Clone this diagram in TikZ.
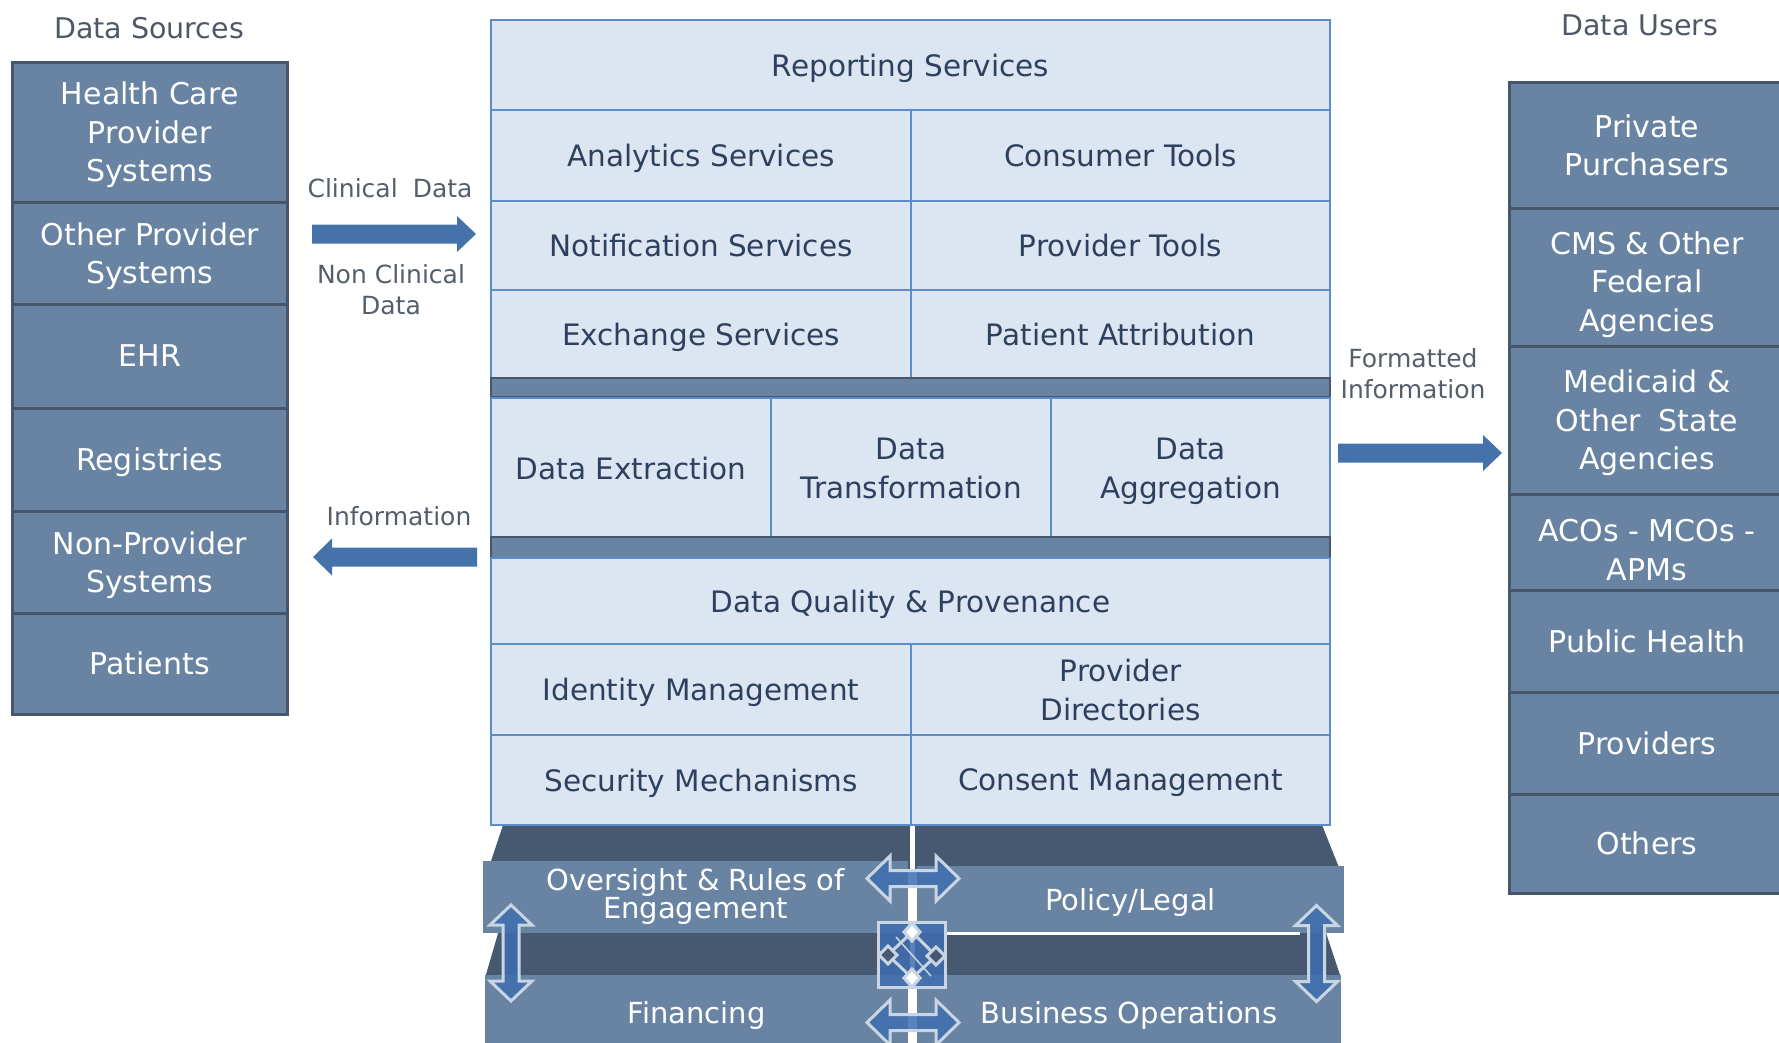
\documentclass[tikz,border=0pt]{standalone}
\usepackage{fontspec}
\setmainfont{DejaVu Sans}
\definecolor{slate}{HTML}{6884A2}
\definecolor{slateline}{HTML}{46566C}
\definecolor{darkslate}{HTML}{475971}
\definecolor{paleblue}{HTML}{DCE6F2}
\definecolor{gridblue}{HTML}{5D8DC8}
\definecolor{navytext}{HTML}{2D405E}
\definecolor{titlegray}{HTML}{4F5866}
\definecolor{labelgray}{HTML}{555E6B}
\definecolor{arrowblue}{HTML}{4672AA}
\definecolor{glyphblue}{HTML}{3F6EB0}
\definecolor{glyphedge}{HTML}{C9D5E3}
\tikzset{
  srcbox/.style={draw=slateline, line width=3pt, fill=slate, text=white, align=center, inner sep=0pt, text depth=0pt, font=\fontsize{30}{38.5}\selectfont},
  srctext/.style={text=white, align=center, inner sep=0pt, text depth=0pt, font=\fontsize{30}{38.5}\selectfont},
  cell/.style={draw=gridblue, line width=2.5pt, fill=paleblue, text=navytext, align=center, inner sep=0pt, text depth=0pt, font=\fontsize{29.5}{39}\selectfont},
  band/.style={draw=slateline, line width=2pt, fill=slate, inner sep=0pt},
  govbox/.style={fill=slate, text=white, align=center, inner sep=0pt, text depth=0pt, font=\fontsize{29}{23.5}\selectfont},
  govtext/.style={text=white, align=center, inner sep=0pt, font=\fontsize{29}{23.5}\selectfont},
  titletext/.style={text=titlegray, font=\fontsize{28.5}{34}\selectfont, inner sep=0pt},
  flowlabel/.style={text=labelgray, align=center, font=\fontsize{25}{31}\selectfont, inner sep=0pt},
  blockarrow/.style={fill=arrowblue},
  glyph/.style={fill=glyphblue, fill opacity=0.85, draw=glyphedge, draw opacity=1, line width=3pt, line join=miter},
}
\newcommand\rightblock[1]{\fill[blockarrow, shift={(#1)}] (0,-9.5) -- (145,-9.5) -- (145,-18) -- (164,0) -- (145,18) -- (145,9.5) -- (0,9.5) -- cycle;}
\newcommand\leftblock[1]{\fill[blockarrow, shift={(#1)}] (0,-9.5) -- (-145,-9.5) -- (-145,-18.5) -- (-164,0) -- (-145,18.5) -- (-145,9.5) -- (0,9.5) -- cycle;}
\newcommand\hdouble[1]{\draw[glyph, shift={(#1)}] (-46,0) -- (-23,-22.5) -- (-23,-8) -- (23,-8) -- (23,-22.5) -- (46,0) -- (23,22.5) -- (23,8) -- (-23,8) -- (-23,22.5) -- cycle;}
\newcommand\vdouble[1]{\draw[glyph, shift={(#1)}] (0,-48) -- (21,-28) -- (8,-28) -- (8,28) -- (21,28) -- (0,48) -- (-21,28) -- (-8,28) -- (-8,-28) -- (-21,-28) -- cycle;}
\begin{document}
\begin{tikzpicture}[x=1pt, y=-1pt]
\useasboundingbox (0,0) rectangle (1779,1042);
\clip (0,0) rectangle (1779,1042);
\fill[white] (0,0) rectangle (1779,1042);

% ---------- governance base (bottom) ----------
\fill[darkslate] (503,825) -- (1322,825) -- (1340,870) -- (488,870) -- cycle;
\fill[darkslate] (499,930) -- (1325,930) -- (1341,978) -- (485,978) -- cycle;
\draw[white, line width=5pt] (912.5,825) -- (912.5,1042);
\node[govbox, minimum width=425, minimum height=72] (ovs) at (695.5,897) {};
\node[govtext] (ovst) at (695.5,896.5) {Oversight \& Rules of\\Engagement};
\node[govbox, minimum width=427, minimum height=67] (pol) at (1130.5,899.5) {Policy/Legal};
\node[govbox, minimum width=423, minimum height=75] (fin) at (696.5,1012.5) {Financing};
\node[govbox, minimum width=424, minimum height=75] (bus) at (1129,1012.5) {Business Operations};
\draw[white, line width=3pt] (945,933.5) -- (1300,933.5);

\coordinate (hTop) at (913,878.5);
\coordinate (hBot) at (913,1022.5);
\coordinate (vLeft) at (511,953);
\coordinate (vRight) at (1316.5,953.5);
\coordinate (hub) at (911,954);
\hdouble{hTop}
\hdouble{hBot}
\vdouble{vLeft}
\vdouble{vRight}
% central four-way glyph
\draw[glyph, shift={(hub)}] (-33,-32) rectangle (34,33);
\draw[glyphedge, line width=3pt, shift={(hub)}] (1,-22) -- (25,2) -- (1,24) -- (-23,1) -- cycle;
\draw[glyphedge, line width=1.5pt, shift={(hub)}] (-15,-17) -- (20,22);
\draw[glyphedge, line width=3pt, fill=white, shift={(hub)}] (1,-31) -- (9,-22) -- (1,-13) -- (-7,-22) -- cycle;
\draw[glyphedge, line width=3pt, fill=white, shift={(hub)}] (1,15) -- (9,24) -- (1,33) -- (-7,24) -- cycle;
\draw[glyphedge, line width=3pt, fill=darkslate, shift={(hub)}] (-23,-8) -- (-14,1) -- (-23,10) -- (-32,1) -- cycle;
\draw[glyphedge, line width=3pt, fill=darkslate, shift={(hub)}] (25,-7) -- (34,2) -- (25,11) -- (16,2) -- cycle;

% ---------- titles ----------
\node[titletext] (srcT) at (149,28) {Data Sources};
\node[titletext] (usrT) at (1640,25) {Data Users};

% ---------- data sources ----------
\node[srcbox, minimum width=274.5, minimum height=140] (hcp) at (149.75,132) {Health Care\\Provider\\Systems};
\node[srcbox, minimum width=274.5, minimum height=102] (ops) at (149.75,253) {Other Provider\\Systems};
\node[srcbox, minimum width=274.5, minimum height=104] (ehr) at (149.75,356) {EHR};
\node[srcbox, minimum width=274.5, minimum height=103] (reg) at (149.75,459.5) {Registries};
\node[srcbox, minimum width=274.5, minimum height=102] (nps) at (149.75,562) {Non-Provider\\Systems};
\node[srcbox, minimum width=274.5, minimum height=101] (pat) at (149.75,663.5) {Patients};

% ---------- data users ----------
\node[srcbox, minimum width=276, minimum height=126] (pp) at (1647,145) {Private\\Purchasers};
\node[srcbox, minimum width=276, minimum height=138] (cms) at (1647,277) {};
\node[srctext] (cmst) at (1647,281.5) {CMS \& Other\\Federal\\Agencies};
\node[srcbox, minimum width=276, minimum height=148] (mcd) at (1647,420) {Medicaid \&\\Other\hspace{0.6em}State\\Agencies};
\node[srcbox, minimum width=276, minimum height=96] (aco) at (1647,542) {};
\node[srctext] (acot) at (1647,550) {ACOs - MCOs -\\APMs};
\node[srcbox, minimum width=276, minimum height=102] (pub) at (1647,641) {Public Health};
\node[srcbox, minimum width=276, minimum height=102] (prv) at (1647,743) {Providers};
\node[srcbox, minimum width=276, minimum height=99] (oth) at (1647,843.5) {Others};

% ---------- central services stack ----------
\node[cell, minimum width=839, minimum height=90] (rep) at (910.5,65) {Reporting Services};
\node[cell, minimum width=420, minimum height=91] (ana) at (701,155.5) {Analytics Services};
\node[cell, minimum width=419, minimum height=91] (con) at (1120.5,155.5) {Consumer Tools};
\node[cell, minimum width=420, minimum height=89] (notif) at (701,245.5) {Notification Services};
\node[cell, minimum width=419, minimum height=89] (prt) at (1120.5,245.5) {Provider Tools};
\node[cell, minimum width=420, minimum height=88] (exc) at (701,334) {Exchange Services};
\node[cell, minimum width=419, minimum height=88] (pa) at (1120.5,334) {Patient Attribution};
\node[band, minimum width=839, minimum height=19] (band1) at (910.5,387.5) {};
\node[cell, minimum width=280, minimum height=140] (ext) at (631,468) {Data Extraction};
\node[cell, minimum width=280, minimum height=140] (trn) at (911,468) {Data\\Transformation};
\node[cell, minimum width=279, minimum height=140] (agg) at (1190.5,468) {Data\\Aggregation};
\node[band, minimum width=839, minimum height=21] (band2) at (910.5,547.5) {};
\node[cell, minimum width=839, minimum height=86] (dqp) at (910.5,601) {Data Quality \& Provenance};
\node[cell, minimum width=420, minimum height=91] (idm) at (701,689.5) {Identity Management};
\node[cell, minimum width=419, minimum height=91] (pdr) at (1120.5,689.5) {Provider\\Directories};
\node[cell, minimum width=420, minimum height=90] (sec) at (701,780) {Security Mechanisms};
\node[cell, minimum width=419, minimum height=90] (cns) at (1120.5,780) {Consent Management};

% ---------- flows ----------
\coordinate (clinStart) at (312,234);
\coordinate (infoStart) at (477,557);
\coordinate (fmtStart) at (1338,453);
\rightblock{clinStart}
\leftblock{infoStart}
\rightblock{fmtStart}
\node[flowlabel] (clinL) at (390,188) {Clinical\hspace{0.6em}Data};
\node[flowlabel] (nonclinL) at (391,290) {Non Clinical\\Data};
\node[flowlabel] (infoL) at (399,516) {Information};
\node[flowlabel] (fmtL) at (1413,374) {Formatted\\Information};
\end{tikzpicture}
\end{document}
